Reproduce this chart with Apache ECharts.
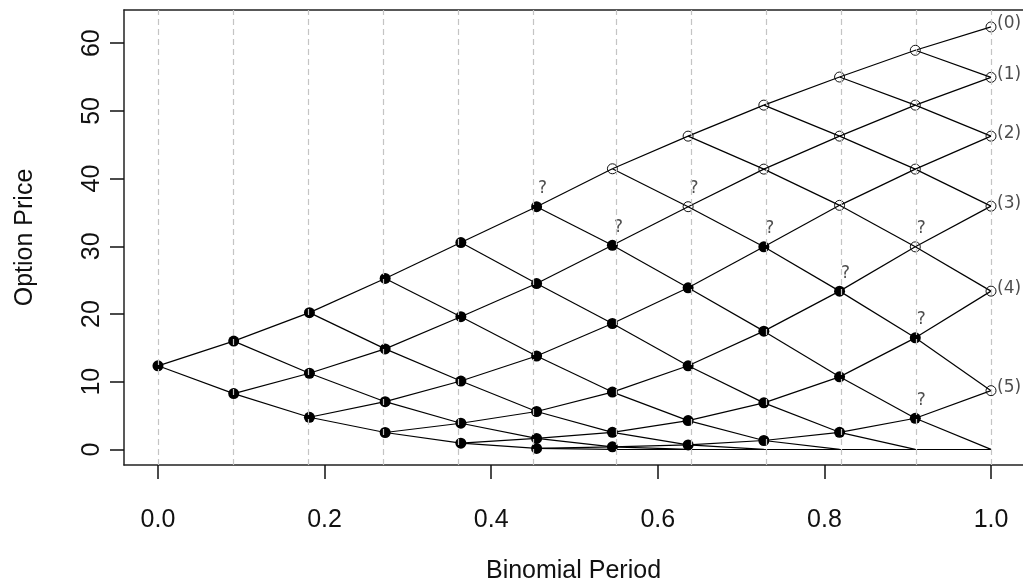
<!DOCTYPE html>
<html>
<head>
<meta charset="utf-8">
<script src="https://cdn.jsdelivr.net/npm/echarts@6/dist/echarts.min.js"></script>
<style>
  html, body { margin: 0; padding: 0; background: #fff; }
  #chart { width: 1023px; height: 585px; }
</style>
</head>
<body>
<div id="chart"></div>
<script>
// Binomial tree of an American put: time steps and option value at each node
const periods = [0, 0.0909, 0.1818, 0.2727, 0.3636, 0.4545, 0.5455, 0.6364, 0.7273, 0.8182, 0.9091, 1.0];

const step0  = [12.35];
const step1  = [16.0, 8.25];
const step2  = [20.2, 11.25, 4.75];
const step3  = [25.25, 14.85, 7.05, 2.5];
const step4  = [30.55, 19.6, 10.1, 3.87, 0.92];
const step5  = [35.85, 24.5, 13.8, 5.6, 1.63, 0.15];
const step6  = [41.45, 30.15, 18.6, 8.47, 2.52, 0.38, 0];
const step7  = [46.27, 35.85, 23.87, 12.35, 4.26, 0.66, 0, 0];
const step8  = [50.85, 41.4, 29.92, 17.47, 6.88, 1.32, 0, 0, 0];
const step9  = [55.0, 46.27, 36.05, 23.38, 10.72, 2.53, 0, 0, 0, 0];
const step10 = [58.95, 50.85, 41.4, 29.92, 16.48, 4.6, 0, 0, 0, 0, 0];
const step11 = [62.4, 54.95, 46.27, 35.93, 23.38, 8.68, 0, 0, 0, 0, 0, 0];

// number of top nodes at each step where the option is exercised (open circles)
const earlyExerciseCount = [0, 0, 0, 0, 0, 0, 1, 2, 2, 3, 4, 6];
// [step, node] pairs flagged with a question mark
const flaggedNodes = [[5, 0], [6, 1], [7, 1], [8, 2], [9, 3], [10, 3], [10, 4], [10, 5]];
const terminalLabels = ['(0)', '(1)', '(2)', '(3)', '(4)', '(5)'];

const xTicks = [0, 0.2, 0.4, 0.6, 0.8, 1.0];
const yTicks = [0, 10, 20, 30, 40, 50, 60];

const optionPrices = [step0, step1, step2, step3, step4, step5, step6, step7, step8, step9, step10, step11];

// tree branches: every node links to its down and up successor
const branches = [];
for (let i = 0; i < optionPrices.length - 1; i++) {
  for (let j = 0; j < optionPrices[i].length; j++) {
    const from = [periods[i], optionPrices[i][j]];
    branches.push({ coords: [from, [periods[i + 1], optionPrices[i + 1][j]]] });
    branches.push({ coords: [from, [periods[i + 1], optionPrices[i + 1][j + 1]]] });
  }
}

const heldNodes = [];
const exercisedNodes = [];
optionPrices.forEach((col, i) => {
  col.forEach((v, j) => {
    if (j < earlyExerciseCount[i]) exercisedNodes.push([periods[i], v]);
    else if (v > 0) heldNodes.push([periods[i], v]);
  });
});

const flagPoints = flaggedNodes.map(([i, j]) => [periods[i], optionPrices[i][j]]);
const last = optionPrices.length - 1;
const terminalPoints = terminalLabels.map((t, j) => ({ value: [periods[last], optionPrices[last][j]], name: t }));

const axisFont = { fontFamily: 'Liberation Sans', fontSize: 25, color: '#111' };
const noteFont = { fontFamily: 'DejaVu Sans', fontSize: 17, color: '#222' };
const frameLine = { show: true, onZero: false, lineStyle: { color: '#222', width: 1.5 } };
const X_MIN = -0.0408, X_MAX = 1.0384;

const chart = echarts.init(document.getElementById('chart'), null, { renderer: 'canvas' });
chart.setOption({
  animation: false,
  backgroundColor: '#fff',
  grid: { left: 124, top: 10, right: 0, bottom: 120, show: false, containLabel: false, outerBoundsMode: 'none' },
  xAxis: [
    {
      type: 'value', min: X_MIN, max: X_MAX, position: 'bottom',
      axisLine: frameLine,
      splitLine: { show: false },
      axisTick: { show: true, length: 14, customValues: xTicks, lineStyle: { color: '#111', width: 1.5 } },
      axisLabel: { customValues: xTicks, formatter: v => v.toFixed(1), margin: 43, ...axisFont },
      name: 'Binomial Period', nameLocation: 'middle', nameGap: 94,
      nameTextStyle: axisFont
    },
    {
      // top edge of the plot frame
      type: 'value', min: X_MIN, max: X_MAX, position: 'top',
      axisLine: frameLine,
      axisTick: { show: false }, axisLabel: { show: false }, splitLine: { show: false }
    }
  ],
  yAxis: {
    type: 'value', min: -2.3, max: 64.9,
    axisLine: frameLine,
    splitLine: { show: false },
    axisTick: { show: true, length: 14, customValues: yTicks, lineStyle: { color: '#111', width: 1.5 } },
    axisLabel: { customValues: yTicks, rotate: 90, margin: 19, ...axisFont },
    name: 'Option Price', nameLocation: 'middle', nameGap: 86,
    nameTextStyle: axisFont
  },
  series: [
    {
      type: 'scatter', z: 1, silent: true, symbolSize: 0,
      data: [[periods[0], 0]],
      markLine: {
        silent: true, symbol: 'none', animation: false,
        label: { show: false },
        lineStyle: { type: [6, 4], color: '#c4c4c4', width: 1.2 },
        data: periods.map(t => ({ xAxis: t }))
      }
    },
    {
      type: 'lines', coordinateSystem: 'cartesian2d', z: 2, silent: true,
      lineStyle: { color: '#000', width: 1.2, opacity: 1 },
      data: branches
    },
    {
      type: 'scatter', z: 3, silent: true, symbol: 'circle', symbolSize: 11,
      itemStyle: { color: '#000', opacity: 1 },
      data: heldNodes
    },
    {
      type: 'scatter', z: 3, silent: true, symbol: 'circle', symbolSize: 10,
      itemStyle: { color: 'rgba(255,255,255,0)', borderColor: '#111', borderWidth: 1, opacity: 1 },
      data: exercisedNodes
    },
    {
      type: 'scatter', z: 4, silent: true, symbolSize: 0,
      label: { show: true, position: 'inside', offset: [6, -18], formatter: '?', ...noteFont },
      data: flagPoints
    },
    {
      type: 'scatter', z: 4, silent: true, symbolSize: 0,
      label: { show: true, position: 'inside', align: 'left', offset: [6, -3], formatter: p => p.name, ...noteFont },
      data: terminalPoints
    }
  ]
});
</script>
</body>
</html>
